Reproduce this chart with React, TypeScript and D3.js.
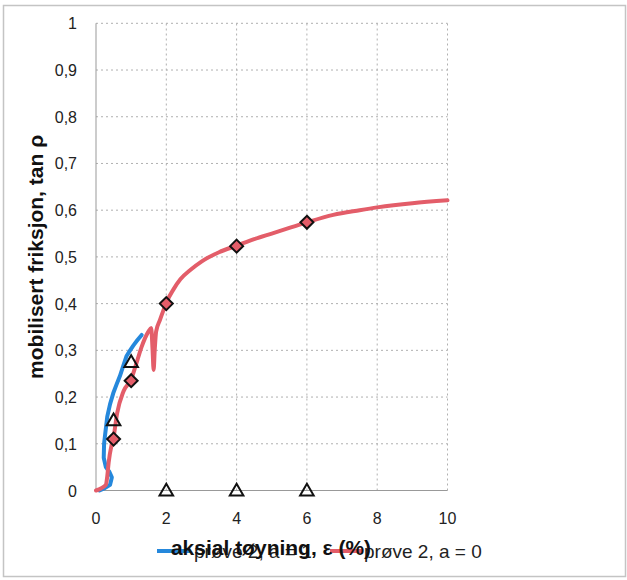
import React from "react";
import * as d3 from "d3";

const xTicks = [0, 2, 4, 6, 8, 10];
const yTicks = [0, 0.1, 0.2, 0.3, 0.4, 0.5, 0.6, 0.7, 0.8, 0.9, 1];
const yTickLabels = ["0", "0,1", "0,2", "0,3", "0,4", "0,5", "0,6", "0,7", "0,8", "0,9", "1"];

// red: prøve 2, a = 0
const redX = [0, 0.15, 0.28, 0.32, 0.36, 0.45, 0.5, 0.6, 0.78, 1.0, 1.12, 1.3, 1.49, 1.57, 1.61, 1.64, 1.67, 1.71, 1.82, 1.92, 2.0, 2.2, 2.4, 2.7, 3.0, 3.5, 4.0, 4.5, 5.0, 5.5, 6.0, 6.75, 7.5, 8.0, 9.0, 10.0];
const redY = [0, 0.005, 0.012, 0.03, 0.06, 0.1, 0.115, 0.165, 0.212, 0.238, 0.265, 0.308, 0.34, 0.348, 0.3, 0.258, 0.3, 0.34, 0.365, 0.386, 0.402, 0.43, 0.452, 0.473, 0.49, 0.51, 0.524, 0.538, 0.55, 0.562, 0.574, 0.59, 0.6, 0.606, 0.615, 0.621];

// blue: prøve 2, a = 1
const blueX = [0.1, 0.25, 0.4, 0.45, 0.38, 0.28, 0.22, 0.23, 0.26, 0.32, 0.4, 0.49, 0.58, 0.68, 0.78, 0.87, 0.97, 1.06, 1.18, 1.3];
const blueY = [0, 0.005, 0.012, 0.028, 0.04, 0.05, 0.07, 0.1, 0.12, 0.158, 0.185, 0.208, 0.226, 0.245, 0.268, 0.288, 0.3, 0.31, 0.322, 0.333];

// marker series
const diamondX = [0.5, 1, 2, 4, 6];
const diamondY = [0.11, 0.235, 0.4, 0.523, 0.574];
const triangleX = [0.5, 1, 2, 4, 6];
const triangleY = [0.15, 0.275, 0, 0, 0];

const seriesNames = ["prøve 2, a = 1", "prøve 2, a = 0"];
const xTitle = "aksial tøyning, ε (%)";
const yTitle = "mobilisert friksjon, tan ρ";

const RED = "#e35d69";
const BLUE = "#2588dc";
const FONT = "'Liberation Sans', Arial, sans-serif";

export default function App() {
  const x = d3.scaleLinear().domain([0, 10]).range([96, 447.5]);
  const y = d3.scaleLinear().domain([0, 1]).range([490.5, 23.3]);
  const lineSmooth = d3
    .line<[number, number]>()
    .x((d) => x(d[0]))
    .y((d) => y(d[1]))
    .curve(d3.curveMonotoneX);
  const lineLin = d3
    .line<[number, number]>()
    .x((d) => x(d[0]))
    .y((d) => y(d[1]));
  const redPts = redX.map((v, i) => [v, redY[i]] as [number, number]);
  const bluePts = blueX.map((v, i) => [v, blueY[i]] as [number, number]);
  const tri = d3.symbol().type(d3.symbolTriangle).size(80)() as string;
  const dia = "M0,-6.5L6.5,0L0,6.5L-6.5,0Z";

  return (
    <svg
      width={627}
      height={580}
      style={{ position: "absolute", left: 0, top: 0, background: "#fff" }}
      fontFamily={FONT}
    >
      <rect x={3.5} y={5.5} width={622} height={571} fill="#fff" stroke="#c4c4c4" strokeWidth={1.5} />
      {/* grid */}
      {yTicks.slice(1).map((t) => (
        <line key={"gy" + t} x1={x(0)} x2={x(10)} y1={y(t)} y2={y(t)} stroke="#b0b0b0" strokeDasharray="2,3" strokeWidth={1} />
      ))}
      {xTicks.slice(1).map((t) => (
        <line key={"gx" + t} x1={x(t)} x2={x(t)} y1={y(0)} y2={y(1)} stroke="#b0b0b0" strokeDasharray="2,3" strokeWidth={1} />
      ))}
      {/* axes */}
      <line x1={x(0)} x2={x(0)} y1={y(0)} y2={y(1)} stroke="#999" strokeWidth={1} />
      <line x1={x(0)} x2={x(10)} y1={y(0)} y2={y(0)} stroke="#999" strokeWidth={1} />
      {/* tick labels */}
      {yTicks.map((t, i) => (
        <text key={"ty" + t} x={77} y={y(t) + 6} textAnchor="end" fontSize={16} fill="#222">
          {yTickLabels[i]}
        </text>
      ))}
      {xTicks.map((t) => (
        <text key={"tx" + t} x={x(t)} y={524} textAnchor="middle" fontSize={16} fill="#222">
          {t}
        </text>
      ))}
      {/* series lines */}
      <path d={lineLin(bluePts) || ""} fill="none" stroke={BLUE} strokeWidth={4} strokeLinejoin="round" strokeLinecap="round" />
      <path d={lineSmooth(redPts) || ""} fill="none" stroke={RED} strokeWidth={4} strokeLinejoin="round" strokeLinecap="round" />
      {/* markers */}
      {triangleX.map((v, i) => (
        <path key={"tr" + i} d={tri} transform={`translate(${x(v)},${y(triangleY[i]) + 1})`} fill="none" stroke="#111" strokeWidth={2} />
      ))}
      {diamondX.map((v, i) => (
        <path key={"dm" + i} d={dia} transform={`translate(${x(v)},${y(diamondY[i])})`} fill={RED} stroke="#111" strokeWidth={2} />
      ))}
      {/* legend */}
      <line x1={157} x2={190} y1={551} y2={551} stroke={BLUE} strokeWidth={4} />
      <text x={194} y={558} fontSize={19} fill="#222">{seriesNames[0]}</text>
      <line x1={330} x2={362} y1={551} y2={551} stroke={RED} strokeWidth={4} />
      <text x={364} y={558} fontSize={19} fill="#222">{seriesNames[1]}</text>
      {/* axis titles */}
      <text x={271} y={555} textAnchor="middle" fontSize={21} fontWeight="bold" fill="#111">
        {xTitle}
      </text>
      <text
        transform={`translate(43,${(y(0) + y(1)) / 2}) rotate(-90)`}
        textAnchor="middle"
        fontSize={21}
        fontWeight="bold"
        fill="#111"
      >
        {yTitle}
      </text>
    </svg>
  );
}
